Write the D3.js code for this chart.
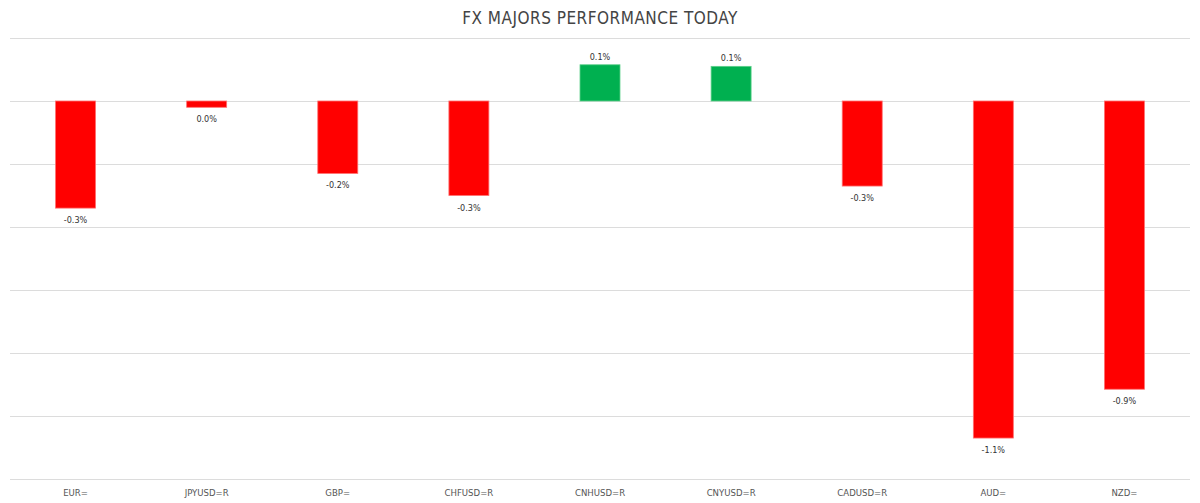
<!DOCTYPE html>
<html>
<head>
<meta charset="utf-8">
<script src="https://cdn.jsdelivr.net/npm/d3@7"></script>
<style>
  body { margin: 0; background: #fff; }
  text { font-family: "DejaVu Sans Condensed", "Roboto", sans-serif; }
</style>
</head>
<body>
<main></main>
<script>
const width = 1200;
const height = 503;
const margin = {top: 38, right: 10, bottom: 24, left: 10};

const categories = ['EUR=', 'JPYUSD=R', 'GBP=', 'CHFUSD=R', 'CNHUSD=R', 'CNYUSD=R', 'CADUSD=R', 'AUD=', 'NZD='];
const values = [-0.34, -0.02, -0.23, -0.30, 0.115, 0.11, -0.27, -1.07, -0.915];
const valueLabels = ['-0.3%', '0.0%', '-0.2%', '-0.3%', '0.1%', '0.1%', '-0.3%', '-1.1%', '-0.9%'];
const gridTicks = [0.2, 0, -0.2, -0.4, -0.6, -0.8, -1.0, -1.2];

const data = categories.map((c, i) => ({cat: c, value: values[i], label: valueLabels[i]}));

const svg = d3.select('main').append('svg')
  .attr('width', width)
  .attr('height', height);

svg.append('text')
  .attr('x', width / 2)
  .attr('y', 24)
  .attr('text-anchor', 'middle')
  .style('font-size', '17px')
  .style('letter-spacing', '0.5px')
  .style('fill', '#444')
  .text('FX MAJORS PERFORMANCE TODAY');

const x = d3.scaleBand()
  .domain(categories)
  .range([margin.left, width - margin.right]);

const y = d3.scaleLinear()
  .domain([-1.2, 0.2])
  .range([height - margin.bottom, margin.top]);

const barW = x.bandwidth() * 0.305;

// gridlines
svg.append('g')
  .selectAll('line')
  .data(gridTicks)
  .enter().append('line')
  .attr('x1', margin.left)
  .attr('x2', width - margin.right)
  .attr('y1', d => Math.round(y(d)) + 0.5)
  .attr('y2', d => Math.round(y(d)) + 0.5)
  .style('stroke', '#dcdcdc')
  .style('stroke-width', 1);

// bars
svg.append('g')
  .selectAll('rect')
  .data(data)
  .enter().append('rect')
  .attr('x', d => x(d.cat) + x.bandwidth() / 2 - barW / 2)
  .attr('y', d => y(Math.max(0, d.value)))
  .attr('width', barW)
  .attr('height', d => Math.abs(y(d.value) - y(0)))
  .style('fill', d => d.value >= 0 ? '#00b050' : '#ff0000')
  .style('stroke', d => d.value >= 0 ? '#5cd08a' : '#ff7070')
  .style('stroke-width', 0.8);

// value labels
svg.append('g')
  .selectAll('text')
  .data(data)
  .enter().append('text')
  .attr('x', d => x(d.cat) + x.bandwidth() / 2)
  .attr('y', d => d.value >= 0 ? y(d.value) - 5 : y(d.value) + 15)
  .attr('text-anchor', 'middle')
  .style('font-size', '9px')
  .style('fill', '#333')
  .text(d => d.label);

// category axis
const xAxis = svg.append('g')
  .attr('transform', `translate(0,${height - margin.bottom})`)
  .call(d3.axisBottom(x).tickSize(0).tickPadding(10));
xAxis.select('.domain').remove();
xAxis.selectAll('text')
  .style('font-size', '9.5px')
  .style('font-family', '"DejaVu Sans Condensed", Roboto, sans-serif')
  .style('fill', '#555');
</script>
</body>
</html>
